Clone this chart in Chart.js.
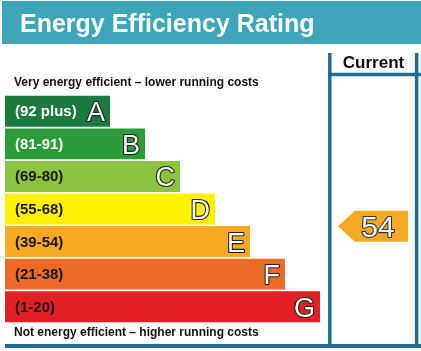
<!DOCTYPE html>
<html>
<head>
<meta charset="utf-8">
<script src="https://cdn.jsdelivr.net/npm/chart.js@4/dist/chart.umd.min.js"></script>
<style>
  html, body { margin: 0; padding: 0; background: #fff; }
  #wrap { width: 421px; height: 351px; }
</style>
</head>
<body>
<div id="wrap"><canvas id="epc" width="421" height="351"></canvas></div>
<script>
  // bands, top (most efficient) to bottom
  const bandLetters = ['A', 'B', 'C', 'D', 'E', 'F', 'G']
  const bandRanges = ['(92 plus)', '(81-91)', '(69-80)', '(55-68)', '(39-54)', '(21-38)', '(1-20)']
  const bandMin = [92, 81, 69, 55, 39, 21, 1]
  const bandMax = [100, 91, 80, 68, 54, 38, 20]
  const barLengths = [30, 40, 50, 60, 70, 80, 90]
  const bandColors = ['#1b7b3f', '#2c9c3a', '#8cc43f', '#fff100', '#f6aa24', '#ec6a28', '#e21f24']
  const rangeTextColors = ['#fff', '#fff', '#1a1a1a', '#1a1a1a', '#1a1a1a', '#1a1a1a', '#1a1a1a']
  const currentRating = 54

  const FONT = '"Liberation Sans", Arial, sans-serif'
  const LINE = '#1b6d97'

  const epcPlugin = {
    id: 'epc',
    beforeDraw(chart) {
      const ctx = chart.ctx
      const W = chart.width
      ctx.save()
      ctx.fillStyle = '#fff'
      ctx.fillRect(0, 0, W, chart.height)

      // banner
      ctx.fillStyle = '#3ca6b8'
      ctx.fillRect(2, 1, W - 2, 43)
      ctx.fillStyle = '#fff'
      ctx.font = 'bold 25px ' + FONT
      ctx.textBaseline = 'alphabetic'
      ctx.fillText('Energy Efficiency Rating', 20, 31.5)

      // captions
      ctx.fillStyle = '#111'
      ctx.font = 'bold 12px ' + FONT
      ctx.fillText('Very energy efficient \u2013 lower running costs', 14, 85.5)
      ctx.fillText('Not energy efficient \u2013 higher running costs', 14, 335.5)

      // current column frame
      ctx.strokeStyle = LINE
      ctx.lineWidth = 3.5
      ctx.beginPath()
      ctx.moveTo(329.8, 53); ctx.lineTo(329.8, 346)
      ctx.moveTo(416.6, 53); ctx.lineTo(416.6, 346)
      ctx.moveTo(328, 74.5); ctx.lineTo(W, 74.5)
      ctx.stroke()
      ctx.lineWidth = 4
      ctx.beginPath()
      ctx.moveTo(5, 346); ctx.lineTo(W, 346)
      ctx.stroke()

      ctx.fillStyle = '#111'
      ctx.font = 'bold 17px ' + FONT
      ctx.textAlign = 'center'
      ctx.fillText('Current', 373.5, 68)
      ctx.restore()
    },
    afterDatasetsDraw(chart) {
      const ctx = chart.ctx
      const meta = chart.getDatasetMeta(0)
      ctx.save()
      ctx.textBaseline = 'alphabetic'
      meta.data.forEach((bar, i) => {
        ctx.font = 'bold 15px ' + FONT
        ctx.textAlign = 'left'
        ctx.fillStyle = rangeTextColors[i]
        ctx.fillText(bandRanges[i], bar.base + 10, bar.y + 5)

        ctx.font = '27px ' + FONT
        ctx.textAlign = 'right'
        ctx.lineJoin = 'round'
        ctx.lineWidth = 2.2
        ctx.strokeStyle = '#222'
        ctx.strokeText(bandLetters[i], bar.x - 5, bar.y + 10)
        ctx.fillStyle = '#fff'
        ctx.fillText(bandLetters[i], bar.x - 5, bar.y + 10)
      })

      // current rating arrow, placed within its band on the y scale
      const bi = bandMin.findIndex((m, i) => currentRating >= m && currentRating <= bandMax[i])
      const frac = (bandMax[bi] + 0.5 - currentRating) / (bandMax[bi] - bandMin[bi] + 1)
      const y = chart.scales.y.getPixelForValue(bi - 0.5 + frac)
      const h = 15.5
      ctx.fillStyle = bandColors[bi]
      ctx.beginPath()
      ctx.moveTo(338, y)
      ctx.lineTo(355, y - h)
      ctx.lineTo(408, y - h)
      ctx.lineTo(408, y + h)
      ctx.lineTo(355, y + h)
      ctx.closePath()
      ctx.fill()

      ctx.font = '30px ' + FONT
      ctx.textAlign = 'center'
      ctx.lineWidth = 2.2
      ctx.strokeStyle = '#333'
      ctx.strokeText(String(currentRating), 378, y + 10.5)
      ctx.fillStyle = '#fff'
      ctx.fillText(String(currentRating), 378, y + 10.5)
      ctx.restore()
    }
  }

  new Chart(document.getElementById('epc'), {
    type: 'bar',
    data: {
      labels: bandLetters,
      datasets: [{
        data: barLengths,
        backgroundColor: bandColors,
        borderWidth: 0,
        barPercentage: 0.95,
        categoryPercentage: 1
      }]
    },
    options: {
      indexAxis: 'y',
      responsive: false,
      animation: false,
      events: [],
      layout: { padding: { left: 5, right: 3, top: 95, bottom: 28 } },
      plugins: { legend: { display: false }, tooltip: { enabled: false } },
      scales: {
        x: { display: false, min: 0, max: 118 },
        y: { display: false }
      }
    },
    plugins: [epcPlugin]
  })
</script>
</body>
</html>
